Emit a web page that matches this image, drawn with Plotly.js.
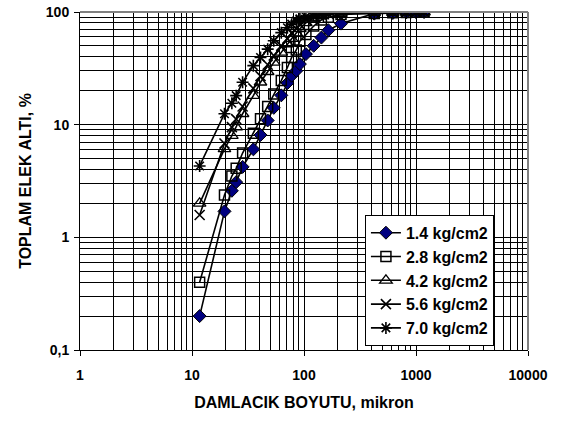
<!DOCTYPE html>
<html>
<head>
<meta charset="utf-8">
<script src="https://cdn.plot.ly/plotly-3.0.1.min.js"></script>
<style>html,body{margin:0;padding:0;background:#fff;}#chart{width:566px;height:421px;}</style>
</head>
<body>
<div id="chart"></div>
<script>
// Droplet size classes (micron)
const sizes = [11.7, 19.5, 22.7, 24.8, 28.3, 35.3, 40.9, 47.4, 53.7, 62.7, 71.1, 77.6, 85.4, 91.9, 104, 122, 143, 165, 214, 424, 621, 820, 1000, 1180];
// Cumulative undersize (%) per pressure
const p14 = [0.2, 1.7, 2.59, 3.09, 4.22, 6.04, 8.1, 10.9, 14.1, 18.2, 23.4, 27.2, 30.1, 34.5, 42.3, 50.1, 59.3, 68.9, 78.9, 96.7, 98, 99.3, 99.6, 99.8];
const p28 = [0.40, 2.37, 3.5, 4.1, 5.6, 8.4, 11.3, 14.5, 18.7, 24.6, 32.2, 39.5, 46, 55, 63, 75, 85, 90, 95, 97, 98.5, 99.2, 99.5, 99.8];
const p42 = [2.0, 6.1, 8.0, 9.5, 12.5, 18.1, 23.8, 29.5, 35.7, 43.8, 52, 58, 65, 71, 80, 88, 93, 95, 97, 98.5, 99, 99.5, 99.7, 100];
const p56 = [1.58, 6.8, 9.5, 11.2, 14.5, 21, 27, 34, 41, 50, 58, 65, 71, 77, 85, 91, 94.5, 96.5, 98, 98.8, 99.2, 99.6, 99.8, 100];
const p70 = [4.3, 12.5, 15.5, 18.1, 23.8, 33.4, 39.5, 46.8, 55.5, 65.6, 72.5, 78, 83, 87, 91, 94, 96, 97, 98, 99, 99.3, 99.6, 99.8, 100];
const names = ["1.4 kg/cm2", "2.8 kg/cm2", "4.2 kg/cm2", "5.6 kg/cm2", "7.0 kg/cm2"];
const xTickVals = [1, 10, 100, 1000, 10000];
const xTickText = ["1", "10", "100", "1000", "10000"];
const yTickVals = [0.1, 1, 10, 100];
const yTickText = ["0,1", "1", "10", "100"];

const series = [p14, p28, p42, p56, p70];
const markers = [
  {symbol: "diamond", size: 10, color: "#000080", line: {color: "#000000", width: 1}},
  {symbol: "square-open", size: 10, color: "#000000", line: {color: "#000000", width: 1.5}},
  {symbol: "triangle-up-open", size: 11, color: "#000000", line: {color: "#000000", width: 1.3}},
  {symbol: "x-thin-open", size: 10, color: "#000000", line: {color: "#000000", width: 1.6}},
  {symbol: "asterisk-open", size: 10, color: "#000000", line: {color: "#000000", width: 1.6}}
];
const traces = series.map((ys, i) => ({
  type: "scatter", mode: "lines+markers", x: sizes, y: ys, name: names[i],
  line: {color: "#000000", width: 1.6}, marker: markers[i]
}));

const fam = "Liberation Sans, Arial, sans-serif";
const layout = {
  width: 566, height: 421,
  margin: {l: 80, r: 38, t: 12, b: 71},
  paper_bgcolor: "#ffffff", plot_bgcolor: "#ffffff",
  font: {family: fam, color: "#000000", size: 14, weight: "bold"},
  showlegend: true,
  legend: {x: 0.636, y: 0.40, xanchor: "left", yanchor: "top", bgcolor: "#ffffff",
    bordercolor: "#000000", borderwidth: 1, font: {family: fam, size: 16, weight: "bold", color: "#000"},
    tracegroupgap: 0, itemwidth: 30},
  xaxis: {
    type: "log", range: [0, 4], tickvals: xTickVals, ticktext: xTickText,
    showgrid: true, gridcolor: "#000000", gridwidth: 1,
    minor: {dtick: "D1", showgrid: true, gridcolor: "#000000", gridwidth: 1, ticks: ""},
    showline: true, linecolor: "#000000", linewidth: 1, mirror: false,
    ticks: "outside", ticklen: 5, tickcolor: "#000000",
    tickfont: {family: fam, size: 14, weight: "bold"},
    ticklabelstandoff: 7,
    title: {text: "DAMLACIK BOYUTU, mikron", font: {family: fam, size: 16, weight: "bold"}, standoff: 15},
    zeroline: false
  },
  yaxis: {
    type: "log", range: [-1, 2], tickvals: yTickVals, ticktext: yTickText,
    showgrid: true, gridcolor: "#000000", gridwidth: 1,
    minor: {dtick: "D1", showgrid: true, gridcolor: "#000000", gridwidth: 1, ticks: ""},
    showline: true, linecolor: "#000000", linewidth: 1,
    ticks: "outside", ticklen: 5, tickcolor: "#000000",
    tickfont: {family: fam, size: 14, weight: "bold"},
    ticklabelstandoff: 2,
    title: {text: "TOPLAM ELEK ALTI, %", font: {family: fam, size: 16, weight: "bold"}, standoff: 10},
    zeroline: false
  },
  shapes: [
    {type: "line", xref: "paper", yref: "paper", x0: 0, x1: 1, y0: 1, y1: 1, line: {color: "#808080", width: 2}},
    {type: "line", xref: "paper", yref: "paper", x0: 1, x1: 1, y0: 0, y1: 1, line: {color: "#808080", width: 2}}
  ]
};
Plotly.newPlot("chart", traces, layout, {displayModeBar: false, staticPlot: true});
</script>
</body>
</html>
